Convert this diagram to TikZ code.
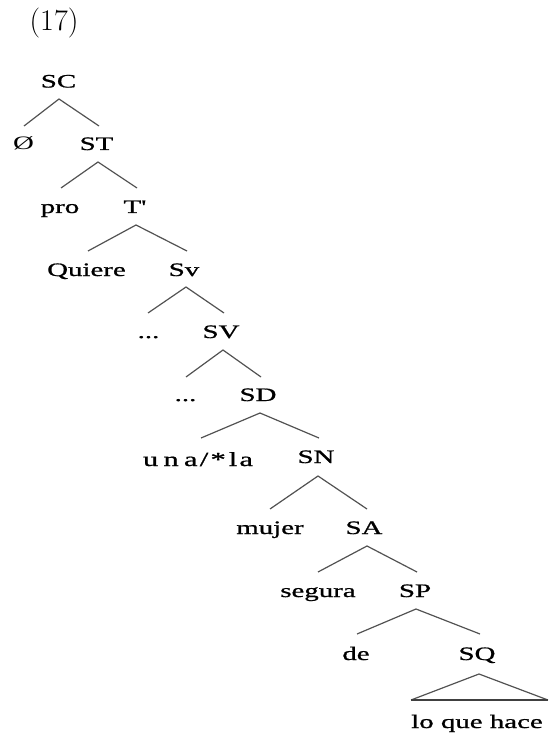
\documentclass[tikz,border=0pt]{standalone}
\usepackage{fontspec}
\usepackage{graphicx}
\newfontfamily\tms[FakeBold=0.8]{Liberation Serif}
\newfontfamily\tmsr{Liberation Serif}
\newcommand\Tx[1]{\scalebox{1.52}[1]{#1}}
\tikzset{
  lbl/.style={font=\tms\fontsize{19}{19}\selectfont, inner sep=0pt, anchor=base},
  br/.style={draw=black!68, line width=1.2pt},
  base/.style={draw=black!75, line width=1.8pt}
}
\begin{document}
\begin{tikzpicture}[x=1pt,y=-1pt]
\useasboundingbox (0,0) rectangle (549,735);
\node[inner sep=0pt, anchor=base, font=\fontsize{30}{30}\selectfont] (num) at (54,30.5) {(17)};
% labels
\node[lbl] (sc)     at (58.5,87.5) {\Tx{SC}};
\node[lbl, font=\tmsr\fontsize{19}{19}\selectfont] (empty) at (23.5,150) {\Tx{Ø}};
\node[lbl] (st)     at (96.5,150) {\Tx{ST}};
\node[lbl] (pro)    at (60,213) {\Tx{pro}};
\node[lbl] (tbar)   at (135,213) {\Tx{T'}};
\node[lbl] (quiere) at (86.5,276) {\Tx{Quiere}};
\node[lbl] (vsmall) at (184,276) {\Tx{Sv}};
\node[lbl] (dotsa)  at (148.5,338) {\Tx{...}};
\node[lbl] (vbig)   at (221,338) {\Tx{SV}};
\node[lbl] (dotsb)  at (185.5,401) {\Tx{...}};
\node[lbl] (sd)     at (258,401) {\Tx{SD}};
\node[lbl, font=\tms\fontsize{20}{20}\selectfont] (una) at (198,466)
  {\Tx{u\kern3.5pt n\kern3.5pt a\kern1.5pt /\kern1.5pt *\kern2pt l\kern1.5pt a}};
\node[lbl] (sn)     at (316,463) {\Tx{SN}};
\node[lbl] (mujer)  at (270,534) {\Tx{mujer}};
\node[lbl] (sa)     at (364,534) {\Tx{SA}};
\node[lbl] (segura) at (318,597) {\Tx{segura}};
\node[lbl] (sp)     at (415,597) {\Tx{SP}};
\node[lbl] (de)     at (356,660) {\Tx{de}};
\node[lbl] (sq)     at (477,660) {\Tx{SQ}};
\node[lbl] (loque)  at (477,728) {\Tx{lo que hace}};
% branch points
\coordinate (sc-t) at (59,99);   \coordinate (sc-l) at (24,126);  \coordinate (sc-r) at (99,126);
\coordinate (st-t) at (98,162);  \coordinate (st-l) at (61,188);  \coordinate (st-r) at (137,188);
\coordinate (tb-t) at (136,225); \coordinate (tb-l) at (88,251);  \coordinate (tb-r) at (187,251);
\coordinate (vs-t) at (186,287); \coordinate (vs-l) at (148,313); \coordinate (vs-r) at (224,313);
\coordinate (vb-t) at (223,350); \coordinate (vb-l) at (186,377); \coordinate (vb-r) at (261,377);
\coordinate (sd-t) at (260,413); \coordinate (sd-l) at (201,438); \coordinate (sd-r) at (319,438);
\coordinate (sn-t) at (318,476); \coordinate (sn-l) at (270,509); \coordinate (sn-r) at (367,509);
\coordinate (sa-t) at (367,546); \coordinate (sa-l) at (318,572); \coordinate (sa-r) at (417,572);
\coordinate (sp-t) at (416,609); \coordinate (sp-l) at (357,634); \coordinate (sp-r) at (480,634);
\coordinate (sq-t) at (479,674); \coordinate (sq-l) at (411,700); \coordinate (sq-r) at (548,700);
% branches
\foreach \n in {sc,st,tb,vs,vb,sd,sn,sa,sp}{
  \draw[br] (\n-l) -- (\n-t) -- (\n-r);
}
\draw[br] (sq-l) -- (sq-t) -- (sq-r);
\draw[base] (sq-l) -- (sq-r);
\end{tikzpicture}
\end{document}
